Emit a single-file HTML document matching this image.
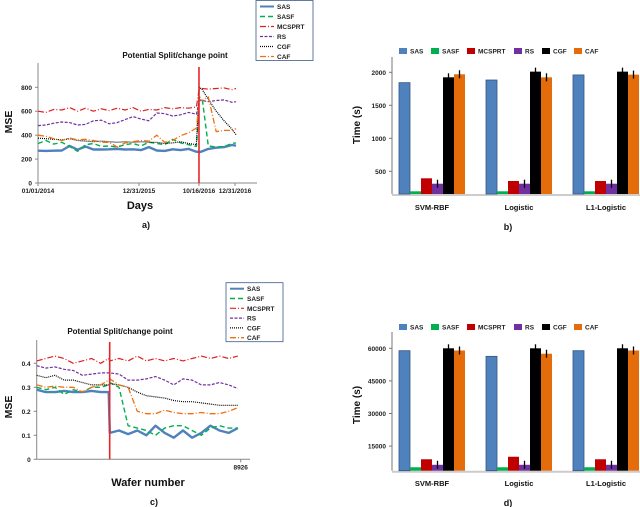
<!DOCTYPE html>
<html><head><meta charset="utf-8"><style>
html,body{margin:0;padding:0;background:#fff;}
svg{display:block;font-family:"Liberation Sans",Arial,sans-serif;}
</style></head><body>
<svg id="fig" width="640" height="507" viewBox="0 0 640 507" xmlns="http://www.w3.org/2000/svg"></svg>
<script>
// ---------- Panel a data ----------
const aPos = [0,4,8,12,16,20,24,28,32,36,40,44,48,52,56,60,64,68,72,76,80,81.5,83,86,90,94,98,100];
const aSAS = [270,268,270,272,310,278,305,280,280,282,285,280,282,275,300,272,268,282,275,285,262,258,265,285,295,300,318,312];
const aSASF = [330,355,325,340,305,265,320,330,305,310,300,320,330,310,340,330,320,365,335,320,305,720,700,310,300,305,330,335];
const aMCSPRT = [600,590,615,610,630,600,625,600,620,605,625,610,630,600,615,610,630,620,630,625,635,800,790,785,790,795,780,790];
const aRS = [480,485,500,510,505,485,490,520,525,495,505,530,555,535,520,585,580,560,570,590,575,690,690,680,690,695,675,680];
const aCGF = [375,370,365,360,370,355,350,345,350,345,340,345,340,345,340,340,330,335,345,330,320,800,780,700,600,520,450,405];
const aCAF = [400,390,370,355,375,360,365,355,340,340,300,335,345,355,350,400,340,355,395,420,460,700,690,720,430,440,440,455];
const aYTicks = [0,200,400,600,800];
const aXTickPos = [0,51,81.3,99.5];
const aXTickLabels = ["01/01/2014","12/31/2015","10/16/2016","12/31/2016"];
const aSplit = 81.3;
// ---------- Panel c data ----------
const cPos = [0,400,800,1200,1600,2000,2400,2800,3150,3200,3600,4000,4400,4800,5200,5600,6000,6400,6800,7200,7600,8000,8400,8800];
const cSAS = [0.29,0.28,0.28,0.285,0.28,0.28,0.285,0.28,0.28,0.11,0.12,0.105,0.12,0.10,0.14,0.11,0.09,0.12,0.09,0.11,0.14,0.12,0.11,0.13];
const cSASF = [0.30,0.29,0.30,0.27,0.29,0.28,0.30,0.30,0.31,0.32,0.30,0.14,0.13,0.12,0.10,0.13,0.14,0.14,0.12,0.10,0.13,0.14,0.13,0.13];
const cMCSPRT = [0.41,0.42,0.43,0.42,0.40,0.41,0.42,0.40,0.42,0.41,0.42,0.41,0.43,0.41,0.42,0.41,0.42,0.41,0.42,0.43,0.42,0.43,0.42,0.43];
const cRS = [0.39,0.38,0.385,0.375,0.37,0.35,0.355,0.36,0.36,0.36,0.355,0.33,0.33,0.335,0.345,0.33,0.31,0.335,0.33,0.31,0.31,0.32,0.31,0.295];
const cCGF = [0.35,0.34,0.35,0.33,0.33,0.32,0.31,0.31,0.31,0.315,0.31,0.30,0.28,0.265,0.26,0.255,0.245,0.24,0.24,0.235,0.23,0.225,0.225,0.225];
const cCAF = [0.31,0.30,0.305,0.30,0.30,0.28,0.30,0.31,0.33,0.335,0.31,0.30,0.20,0.19,0.19,0.205,0.195,0.19,0.19,0.195,0.19,0.19,0.20,0.215];
const cYTicks = [0,0.1,0.2,0.3,0.4];
const cXMax = 8926;
const cSplit = 3194;
// ---------- Panel b / d data ----------
const categories = ["SVM-RBF","Logistic","L1-Logistic"];
const methods = ["SAS","SASF","MCSPRT","RS","CGF","CAF"];
const bSAS = [1843,1883,1960];
const bSASF = [197,197,197];
const bMCSPRT = [394,353,353];
const bRS = [312,312,312];
const bCGF = [1924,2010,2010];
const bCAF = [1970,1924,1965];
const bTicks = [500,1000,1500,2000];
const dSAS = [58900,56300,58900];
const dSASF = [5260,5260,5260];
const dMCSPRT = [8940,10100,8940];
const dRS = [6400,6400,6400];
const dCGF = [60000,60000,60000];
const dCAF = [59000,57500,59000];
const dTicks = [15000,30000,45000,60000];

const NS="http://www.w3.org/2000/svg";
const svg=document.getElementById('fig');
function mk(tag,attrs,parent){const e=document.createElementNS(NS,tag);for(const k in attrs)e.setAttribute(k,attrs[k]);(parent||svg).appendChild(e);return e;}
function txt(s,attrs,parent){const e=mk('text',attrs,parent);e.textContent=s;return e;}

const lineStyles={
 SAS:{stroke:'#4f81bd',w:2.4,dash:''},
 SASF:{stroke:'#00b050',w:1.4,dash:'5,3'},
 MCSPRT:{stroke:'#e02020',w:1.2,dash:'6,2,1,2'},
 RS:{stroke:'#7030a0',w:1.2,dash:'3,1.5'},
 CGF:{stroke:'#000',w:1.2,dash:'1,1'},
 CAF:{stroke:'#f07010',w:1.3,dash:'6,2,1,2'}
};
const barColors={SAS:'#4f81bd',SASF:'#00b050',MCSPRT:'#c00000',RS:'#7030a0',CGF:'#000000',CAF:'#e46c0a'};

function lineChart(o){
  const g=mk('g',{});
  
  
  const sx=v=>o.x0+(v-o.xmin)/(o.xmax-o.xmin)*(o.x1-o.x0);
  const sy=v=>o.yb-(v-o.ymin)/(o.ymax-o.ymin)*(o.yb-o.yt);
  const ya=mk('line',{x1:o.x0,y1:o.ytop,x2:o.x0,y2:o.yb,stroke:'#888','stroke-width':1},g);
  
  const xa=mk('line',{x1:o.x0,y1:o.yb,x2:o.xend,y2:o.yb,stroke:'#888','stroke-width':1},g);
  
  o.yTicks.forEach(t=>{
    const y=sy(t);
    mk('line',{x1:o.x0-3,y1:y,x2:o.x0,y2:y,stroke:'#888'},g);
    const l=txt(o.fmt(t),{x:o.x0-6,y:y+2.5,'font-size':6.5,'font-weight':'bold','text-anchor':'end',fill:'#222'},g);
    
  });
  o.xTickPos.forEach((p,i)=>{
    const x=sx(p);
    mk('line',{x1:x,y1:o.yb,x2:x,y2:o.yb+3,stroke:'#888'},g);
    const l=txt(o.xTickLabels[i],{x:x,y:o.yb+10,'font-size':6.5,'font-weight':'bold','text-anchor':'middle',fill:'#222'},g);
    
  });
  o.series.forEach(s=>{
    const st=lineStyles[s.key];
    const pts=o.pos.map((p,i)=>sx(p).toFixed(1)+','+sy(s.vals[i]).toFixed(1)).join(' ');
    const pl=mk('polyline',{points:pts,fill:'none',stroke:st.stroke,'stroke-width':st.w,'stroke-dasharray':st.dash,'stroke-linejoin':'round'},g);
    
    
  });
  const sl=mk('line',{x1:sx(o.split),y1:o.splitTop,x2:sx(o.split),y2:o.yb,stroke:'#e8262a','stroke-width':1.6},g);
  
  const t=txt('Potential Split/change point',{x:o.titleX,y:o.titleY,'font-size':8,'font-weight':'bold','text-anchor':'middle',fill:'#111'},g);
  
  const yl=txt('MSE',{x:0,y:0,'font-size':10.5,'font-weight':'bold','text-anchor':'middle',fill:'#111',transform:`translate(${o.ylx},${o.yly}) rotate(-90)`},g);
  
  const xl=txt(o.xtitle,{x:o.xtx,y:o.xty,'font-size':11,'font-weight':'bold','text-anchor':'middle',fill:'#111'},g);
  
  const pl=txt(o.panel,{x:o.xtx+6,y:o.panelY,'font-size':9,'font-weight':'bold','text-anchor':'middle',fill:'#111'},g);
  
  const lg=mk('g',{},g);
  
  mk('rect',{x:o.lx,y:o.ly,width:57,height:o.lh,fill:'#fff',stroke:'#3a5a8c','stroke-width':0.8},lg);
  methods.forEach((m,i)=>{
    const y=o.ly+6+i*(o.lh-10)/5;
    const st=lineStyles[m];
    mk('line',{x1:o.lx+4,y1:y,x2:o.lx+18,y2:y,stroke:st.stroke,'stroke-width':Math.min(st.w,2),'stroke-dasharray':st.dash},lg);
    const e=txt(m,{x:o.lx+21,y:y+2.5,'font-size':6.5,'font-weight':'bold',fill:'#222'},lg);
    
  });
}
lineChart({name:'chart-a',pos:aPos,xmin:0,xmax:100,x0:38,x1:236,xend:257,ymin:0,ymax:800,yb:183,yt:87.3,ytop:63,
  yTicks:aYTicks,fmt:v=>String(v),xTickPos:aXTickPos,xTickLabels:aXTickLabels,split:aSplit,splitTop:67,
  series:[{key:'SAS',vals:aSAS},{key:'SASF',vals:aSASF},{key:'MCSPRT',vals:aMCSPRT},{key:'RS',vals:aRS},{key:'CGF',vals:aCGF},{key:'CAF',vals:aCAF}],
  titleX:175,titleY:58,ylx:12,yly:122,xtitle:'Days',xtx:140,xty:209,panel:'a)',panelY:228,lx:256,ly:0.5,lh:60});
lineChart({name:'chart-c',pos:cPos,xmin:0,xmax:cXMax,x0:36.7,x1:240.7,xend:250,ymin:0,ymax:0.4,yb:459.3,yt:363.3,ytop:340,
  yTicks:cYTicks,fmt:v=>v===0?'0':v.toFixed(1),xTickPos:[cXMax],xTickLabels:['8926'],split:cSplit,splitTop:342,
  series:[{key:'SAS',vals:cSAS},{key:'SASF',vals:cSASF},{key:'MCSPRT',vals:cMCSPRT},{key:'RS',vals:cRS},{key:'CGF',vals:cCGF},{key:'CAF',vals:cCAF}],
  titleX:120,titleY:334,ylx:12,yly:407,xtitle:'Wafer number',xtx:148,xty:486,panel:'c)',panelY:505,lx:226,ly:282.7,lh:59});

function barChart(o){
  const g=mk('g',{});
  
  
  const sy=v=>o.yTickY - (v-o.yTickV)*o.pxPer;
  const ya=mk('line',{x1:o.x0,y1:o.ytop,x2:o.x0,y2:o.yb,stroke:'#777','stroke-width':1},g);
  
  const xa=mk('line',{x1:o.x0,y1:o.yb+1,x2:640,y2:o.yb+1,stroke:'#ccc','stroke-width':2},g);
  
  o.ticks.forEach(t=>{
    const y=sy(t);
    mk('line',{x1:o.x0-3,y1:y,x2:o.x0,y2:y,stroke:'#777'},g);
    const l=txt(String(t),{x:o.x0-6,y:y+2.5,'font-size':6.5,'font-weight':'bold','text-anchor':'end',fill:'#222'},g);
    
  });
  const bw=11, gap=87;
  categories.forEach((c,ci)=>{
    const gx=o.gx0+ci*gap;
    o.series.forEach((s,si)=>{
      const v=s.vals[ci];
      const x=gx+si*bw, y=sy(v);
      const r=mk('rect',{x:x,y:y,width:bw,height:o.yb-y,fill:barColors[s.key],stroke:s.key==='SAS'?'#2f5586':'none','stroke-width':0.8},g);
      
      
      if(s.key==='RS'||s.key==='CGF'||s.key==='CAF'){
        mk('line',{x1:x+bw/2,y1:y-4,x2:x+bw/2,y2:y+4,stroke:'#000','stroke-width':1.3},g);
      }
    });
    const cl=txt(c,{x:gx+3*bw,y:o.catY,'font-size':7.5,'font-weight':'bold','text-anchor':'middle',fill:'#111'},g);
    
  });
  const lg=mk('g',{},g);
  
  const lxs=[399,431,467,514,542,574];
  methods.forEach((m,i)=>{
    mk('rect',{x:lxs[i],y:o.legY-3,width:8,height:6,fill:barColors[m]},lg);
    const e=txt(m,{x:lxs[i]+11,y:o.legY+2.5,'font-size':6.5,'font-weight':'bold',fill:'#222'},lg);
    
  });
  const yl=txt('Time (s)',{x:0,y:0,'font-size':10,'font-weight':'bold','text-anchor':'middle',fill:'#111',transform:`translate(${o.ylx},${o.yly}) rotate(-90)`},g);
  
  const pl=txt(o.panel,{x:508,y:o.panelY,'font-size':9,'font-weight':'bold','text-anchor':'middle',fill:'#111'},g);
  
}
barChart({name:'chart-b',x0:392,ytop:57,yb:194,yTickY:72.3,yTickV:2000,pxPer:33/500,ticks:bTicks,gx0:399,catY:210,legY:51,
  series:[{key:'SAS',vals:bSAS},{key:'SASF',vals:bSASF},{key:'MCSPRT',vals:bMCSPRT},{key:'RS',vals:bRS},{key:'CGF',vals:bCGF},{key:'CAF',vals:bCAF}],
  ylx:360,yly:125,panel:'b)',panelY:230});
barChart({name:'chart-d',x0:392,ytop:332,yb:470.7,yTickY:348.3,yTickV:60000,pxPer:32.6/15000,ticks:dTicks,gx0:399,catY:486,legY:327,
  series:[{key:'SAS',vals:dSAS},{key:'SASF',vals:dSASF},{key:'MCSPRT',vals:dMCSPRT},{key:'RS',vals:dRS},{key:'CGF',vals:dCGF},{key:'CAF',vals:dCAF}],
  ylx:360,yly:405,panel:'d)',panelY:506});
</script>
</body></html>
